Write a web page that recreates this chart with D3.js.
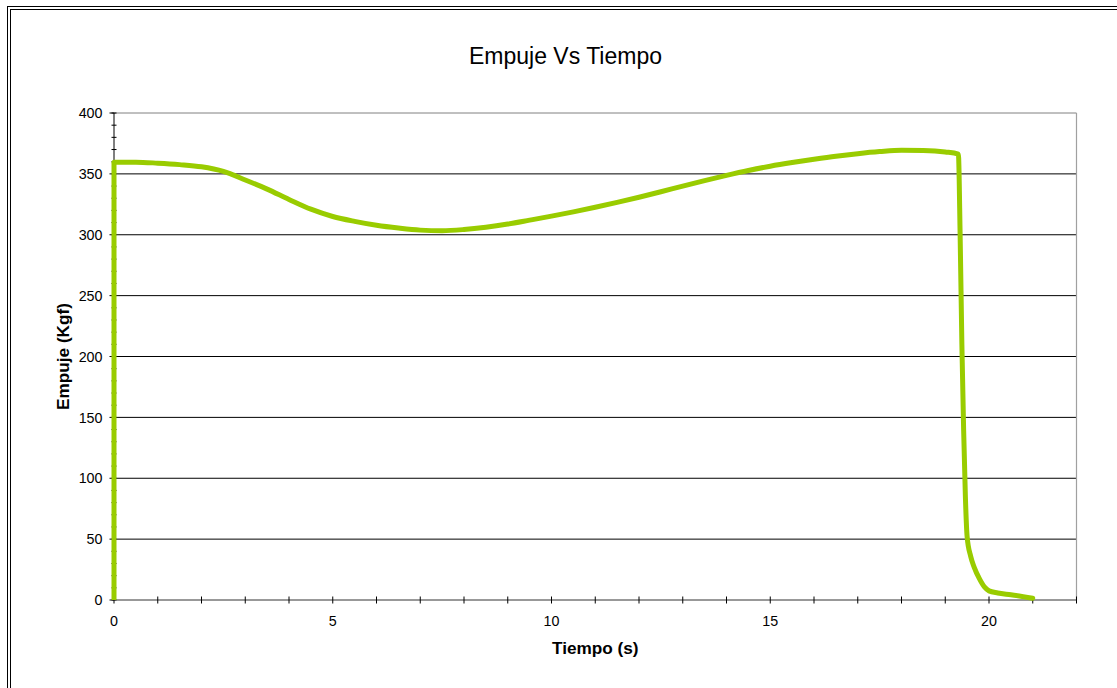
<!DOCTYPE html>
<html>
<head>
<meta charset="utf-8">
<script src="https://cdn.jsdelivr.net/npm/d3@7"></script>
<style>
  html, body { margin: 0; padding: 0; background: #fff; }
  svg { display: block; font-family: "Liberation Sans", Arial, sans-serif; }
</style>
</head>
<body>
<svg id="chart" width="1117" height="688"></svg>
<script>
// Thrust curve of the motor test: time in seconds, thrust in kgf
const timeS = [
  0, 0, 0.5, 1.0, 1.5, 2.0, 2.5, 3.0, 3.5, 4.0, 4.5, 5.0, 5.5, 6.0, 6.5, 7.0, 7.5,
  8.0, 8.5, 9.0, 9.5, 10.0, 10.5, 11.0, 11.5, 12.0, 12.5, 13.0, 13.5, 14.0, 14.5,
  15.0, 15.5, 16.0, 16.5, 17.0, 17.5, 18.0, 18.5, 19.0, 19.3,
  19.34, 19.38, 19.42, 19.46, 19.5, 19.58, 19.66, 19.78, 19.9, 20.0, 20.2, 20.5, 21.0
];
const thrustKgf = [
  0, 359.5, 359.6, 358.8, 357.6, 355.8, 352, 345, 337.5, 329, 321, 315, 311, 307.8, 305.5, 303.8, 303.3,
  304.3, 306.2, 308.8, 312, 315.3, 318.8, 322.6, 326.6, 330.8, 335.3, 340, 344.5, 348.8, 352.8,
  356.3, 359.3, 362, 364.5, 366.6, 368.3, 369.4, 369.2, 368, 366.3,
  300, 210, 140, 85, 52, 36, 27, 17.5, 10.5, 7.5, 5.8, 4.3, 1.5
];

// Axis ticks
const xMajorTicks = [0, 5, 10, 15, 20];
const xMinorTicks = d3.range(0, 23, 1);
const yMajorTicks = [0, 50, 100, 150, 200, 250, 300, 350, 400];
const yMinorTicks = d3.range(0, 401, 10);

const titleText = "Empuje Vs Tiempo";
const xTitle = "Tiempo (s)";
const yTitle = "Empuje (Kgf)";

const svg = d3.select("#chart");
const W = 1117, H = 688;
const plot = { left: 114, right: 1076.5, top: 113, bottom: 600 };

const x = d3.scaleLinear().domain([0, 22]).range([plot.left, plot.right]);
const y = d3.scaleLinear().domain([0, 400]).range([plot.bottom, plot.top]);

// Double frame around the chart
svg.append("rect").attr("x", 7.5).attr("y", 6.5).attr("width", W + 20).attr("height", H + 20)
  .attr("fill", "none").attr("stroke", "#000").attr("stroke-width", 1);
svg.append("rect").attr("x", 10.5).attr("y", 9.5).attr("width", W + 20).attr("height", H + 20)
  .attr("fill", "none").attr("stroke", "#000").attr("stroke-width", 1);

// Horizontal gridlines
svg.append("g").selectAll("line").data(yMajorTicks.filter(d => d > 0)).join("line")
  .attr("x1", plot.left).attr("x2", plot.right)
  .attr("y1", d => y(d)).attr("y2", d => y(d))
  .attr("stroke", d => d === 400 ? "#808080" : "#000").attr("stroke-width", 1);

// Right border of the plot area
svg.append("line")
  .attr("x1", plot.right).attr("x2", plot.right)
  .attr("y1", plot.top).attr("y2", plot.bottom)
  .attr("stroke", "#a0a0a0").attr("stroke-width", 1.2);

// Y axis: line, crossing minor ticks, outside major ticks, labels
const yAxis = svg.append("g");
yAxis.append("line").attr("x1", plot.left).attr("x2", plot.left)
  .attr("y1", plot.top).attr("y2", plot.bottom).attr("stroke", "#000");
yAxis.selectAll("line.minor").data(yMinorTicks).join("line").attr("class", "minor")
  .attr("x1", plot.left - 2.5).attr("x2", plot.left + 2.5)
  .attr("y1", d => y(d)).attr("y2", d => y(d)).attr("stroke", "#000");
yAxis.selectAll("line.major").data(yMajorTicks).join("line").attr("class", "major")
  .attr("x1", plot.left - 4.5).attr("x2", plot.left)
  .attr("y1", d => y(d)).attr("y2", d => y(d)).attr("stroke", "#000");
yAxis.selectAll("text").data(yMajorTicks).join("text")
  .attr("x", 102.5).attr("y", d => y(d)).attr("dy", "0.36em")
  .attr("text-anchor", "end").attr("font-size", 14.3).attr("fill", "#000")
  .text(d => d);

// X axis: line, crossing ticks every second, labels every 5 s
const xAxis = svg.append("g");
xAxis.append("line").attr("x1", plot.left).attr("x2", plot.right)
  .attr("y1", plot.bottom).attr("y2", plot.bottom).attr("stroke", "#333");
xAxis.selectAll("line.tick").data(xMinorTicks).join("line").attr("class", "tick")
  .attr("x1", d => x(d)).attr("x2", d => x(d))
  .attr("y1", plot.bottom - 3.5).attr("y2", plot.bottom + 3.5).attr("stroke", "#000");
xAxis.selectAll("text").data(xMajorTicks).join("text")
  .attr("x", d => x(d)).attr("y", 626)
  .attr("text-anchor", "middle").attr("font-size", 14.3).attr("fill", "#000")
  .text(d => d);

// Thrust curve: the ignition rise is a straight vertical step at t = 0,
// the rest is a smooth monotone curve through the sampled points
const pts = timeS.map((t, i) => [t, thrustKgf[i]]);
const risePts = pts.slice(0, 2);
const burnPts = pts.slice(1);

const straight = d3.line().x(d => x(d[0])).y(d => y(d[1]));
const smooth = d3.line().x(d => x(d[0])).y(d => y(d[1])).curve(d3.curveMonotoneX);

const curveStyle = sel => sel
  .attr("fill", "none")
  .attr("stroke", "#99CC00")
  .attr("stroke-width", 5)
  .attr("stroke-linejoin", "round");

svg.append("path").datum(risePts).attr("d", straight).call(curveStyle)
  .attr("stroke-linecap", "butt");
svg.append("path").datum(burnPts).attr("d", smooth).call(curveStyle)
  .attr("stroke-linecap", "round");

// Titles
svg.append("text").attr("x", 565.5).attr("y", 64)
  .attr("text-anchor", "middle").attr("font-size", 23).attr("fill", "#000")
  .text(titleText);
svg.append("text").attr("x", (plot.left + plot.right) / 2).attr("y", 654)
  .attr("text-anchor", "middle").attr("font-size", 17.2).attr("font-weight", "bold")
  .attr("fill", "#000").text(xTitle);
svg.append("text")
  .attr("transform", `translate(68.5, ${(plot.top + plot.bottom) / 2}) rotate(-90)`)
  .attr("text-anchor", "middle").attr("font-size", 17.2).attr("font-weight", "bold")
  .attr("fill", "#000").text(yTitle);
</script>
</body>
</html>
